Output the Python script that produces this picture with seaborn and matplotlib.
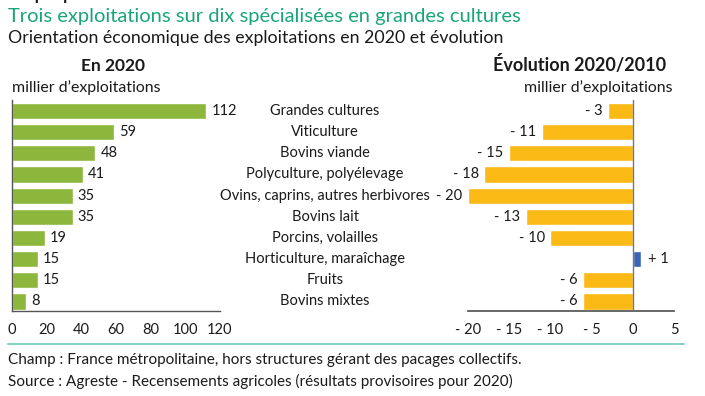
import matplotlib
matplotlib.use("Agg")
import matplotlib.pyplot as plt
import matplotlib.transforms as mtransforms
import seaborn as sns
import pandas as pd

categories = ["Grandes cultures", "Viticulture", "Bovins viande", "Polyculture, polyélevage",
              "Ovins, caprins, autres herbivores", "Bovins lait", "Porcins, volailles",
              "Horticulture, maraîchage", "Fruits", "Bovins mixtes"]
values_2020 = [112, 59, 48, 41, 35, 35, 19, 15, 15, 8]
evolution = [-3, -11, -15, -18, -20, -13, -10, 1, -6, -6]
left_ticks = [0, 20, 40, 60, 80, 100, 120]
right_ticks = [-20, -15, -10, -5, 0, 5]

GREEN = "#8DB63C"
YELLOW = "#FBB916"
BLUE = "#3A64B4"
TITLE_GREEN = "#19A57A"
TXT = "#1a1a1a"

sns.set_theme(style="white")
plt.rcParams["font.family"] = ["Lato", "DejaVu Sans"]

W, H = 705, 396
fig = plt.figure(figsize=(W / 100, H / 100), dpi=100)

def px_axes(x0, y0, x1, y1):
    return fig.add_axes([x0 / W, 1 - y1 / H, (x1 - x0) / W, (y1 - y0) / H])

df = pd.DataFrame({"cat": categories, "v2020": values_2020, "evo": evolution})
ylim = (9.45, -0.52)

# Left panel
axL = px_axes(12, 100, 220, 311)
sns.barplot(data=df, x="v2020", y="cat", color=GREEN, width=0.76, ax=axL,
            saturation=1, orient="h")
axL.set_xlim(0, 120)
axL.set_ylim(*ylim)
axL.set_xticks(left_ticks)
axL.set_xticklabels([str(t) for t in left_ticks])
axL.set_yticks([])
axL.set_xlabel("")
axL.set_ylabel("")
for s in ["top", "right"]:
    axL.spines[s].set_visible(False)
for s in ["left", "bottom"]:
    axL.spines[s].set_color("#555555")
    axL.spines[s].set_linewidth(1.0)
axL.tick_params(axis="x", direction="in", length=5, width=1, color="#555555",
                labelsize=10.5, labelcolor=TXT, pad=9)
for i, v in enumerate(values_2020):
    axL.text(v + 3, i, str(v), va="center", ha="left", fontsize=10.5, color=TXT)

# Right panel
axR = px_axes(468, 100, 674, 311)
pal = [BLUE if v > 0 else YELLOW for v in evolution]
sns.barplot(data=df, x="evo", y="cat", hue="cat", palette=pal, legend=False,
            width=0.76, ax=axR, saturation=1, orient="h")
axR.set_xlim(-20, 5)
axR.set_ylim(*ylim)
axR.set_xticks(right_ticks)
axR.set_xticklabels([("- " + str(-t)) if t < 0 else str(t) for t in right_ticks])
axR.set_yticks([])
axR.set_xlabel("")
axR.set_ylabel("")
for s in ["top", "right", "left"]:
    axR.spines[s].set_visible(False)
axR.spines["bottom"].set_color("#555555")
axR.axvline(0, color="#777777", lw=1.0, zorder=3)
axR.tick_params(axis="x", direction="in", length=5, width=1, color="#555555",
                labelsize=10.5, labelcolor=TXT, pad=9)
for i, v in enumerate(evolution):
    if v < 0:
        axR.text(v - 0.7, i, "- " + str(-v), va="center", ha="right", fontsize=10.5, color=TXT)
    else:
        axR.text(v + 0.9, i, "+ " + str(v), va="center", ha="left", fontsize=10.5, color=TXT)

# Category labels
tr = mtransforms.blended_transform_factory(fig.transFigure, axL.transData)
for i, c in enumerate(categories):
    fig.text(325 / W, i, c, transform=tr, ha="center", va="center", fontsize=10.5, color=TXT)

# Titles
fig.text(8 / W, 1 - 0 / H, "Graphique 3", ha="left", va="baseline", fontsize=12,
         color=TXT, fontweight="bold")
fig.text(8 / W, 1 - 22 / H, "Trois exploitations sur dix spécialisées en grandes cultures",
         ha="left", va="baseline", fontsize=14.5, color=TITLE_GREEN)
fig.text(8 / W, 1 - 43 / H, "Orientation économique des exploitations en 2020 et évolution",
         ha="left", va="baseline", fontsize=12.8, color=TXT)
fig.text(113 / W, 1 - 71 / H, "En 2020", ha="center", va="baseline", fontsize=12.5,
         color=TXT, fontweight="bold")
fig.text(580 / W, 1 - 71 / H, "Évolution 2020/2010", ha="center", va="baseline",
         fontsize=13, color=TXT, fontweight="bold")
fig.text(12 / W, 1 - 92 / H, "millier d’exploitations", ha="left", va="baseline",
         fontsize=11.4, color=TXT)
fig.text(672 / W, 1 - 92 / H, "millier d’exploitations", ha="right", va="baseline",
         fontsize=11.4, color=TXT)

# Separator and footer
fig.add_artist(plt.Line2D([8 / W, 684 / W], [1 - 344 / H, 1 - 344 / H],
                          color="#86D3C4", lw=1.5, transform=fig.transFigure))
fig.text(8 / W, 1 - 364 / H, "Champ : France métropolitaine, hors structures gérant des pacages collectifs.",
         ha="left", va="baseline", fontsize=11, color=TXT)
fig.text(8 / W, 1 - 386 / H, "Source : Agreste - Recensements agricoles (résultats provisoires pour 2020)",
         ha="left", va="baseline", fontsize=11, color=TXT)

fig.savefig("out.png", dpi=100, facecolor="white")
